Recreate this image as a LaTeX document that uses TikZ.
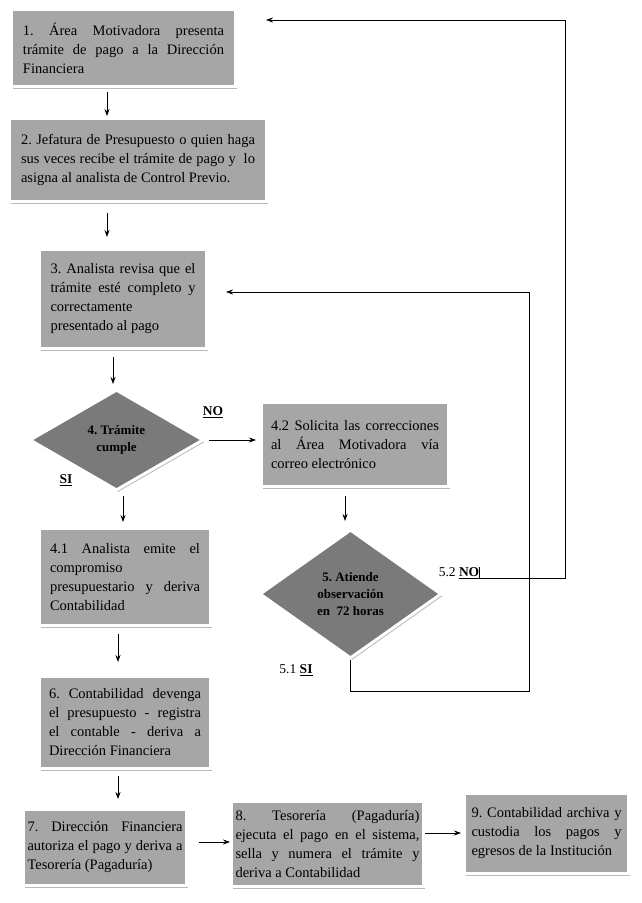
\documentclass[tikz,border=0pt]{standalone}
\usepackage{fontspec}
\setmainfont{Liberation Serif}
\usepackage{xcolor}
\usepackage{tikz}
\usetikzlibrary{arrows.meta, shapes.geometric, positioning, shadows, calc}
\frenchspacing
\definecolor{grisclaro}{RGB}{166,166,166}
\definecolor{grisoscuro}{RGB}{122,122,122}
\definecolor{grissombra}{RGB}{185,185,185}
\tikzset{
  paso/.style={
      draw=white,
      line width=3pt,
      fill=grisclaro,
      rectangle,
      inner sep=4pt,
      align=justify,
      font=\fontsize{14.5}{19}\selectfont,
      drop shadow={shadow xshift=1.5pt, shadow yshift=-2pt, fill=grissombra, opacity=1}
  },
  decision/.style={
      draw=white,
      line width=3pt,
      fill=grisoscuro,
      diamond,
      inner sep=0pt,
      align=center,
      font=\fontsize{13}{17}\selectfont\bfseries,
      drop shadow={shadow xshift=1.5pt, shadow yshift=-2pt, fill=grissombra, opacity=1}
  },
  etiqueta/.style={inner sep=0pt, font=\fontsize{13.5}{15}\selectfont},
  arrow/.style={-{Stealth[length=7pt,width=5pt]}, line width=0.8pt}
}

\begin{document}
\begin{tikzpicture}[x=1pt, y=-1pt]
      \useasboundingbox (0,0) rectangle (642,903);
      % Basic boxes
      \node (paso1) [paso, minimum width=224, minimum height=77, text width=201] at (123.5,48)
        {1. Área Motivadora presenta\linebreak trámite de pago a la Dirección\linebreak Financiera};
      \node (paso2) [paso, minimum width=257, minimum height=83, text width=234] at (138,160)
        {2. Jefatura de Presupuesto o quien haga\linebreak sus veces recibe el trámite de pago y\ \ lo\linebreak asigna al analista de Control Previo.};
      \node (paso3) [paso, minimum width=167, minimum height=99, text width=145] at (123,299)
        {3. Analista revisa que el\linebreak trámite esté completo y\linebreak correctamente\newline presentado al pago};
      \node (paso42) [paso, minimum width=187, minimum height=84, text width=168] at (355,444.5)
        {4.2 Solicita las correcciones\linebreak al Área Motivadora vía\linebreak correo electrónico};
      \node (paso41) [paso, minimum width=171, minimum height=97, text width=150] at (125,577)
        {4.1 Analista emite el\linebreak compromiso\newline presupuestario y deriva\linebreak Contabilidad};
      \node (paso6) [paso, minimum width=171, minimum height=92, text width=152] at (125,722.5)
        {6. Contabilidad devenga\linebreak el presupuesto - registra\linebreak el contable - deriva a\linebreak Dirección Financiera};
      \node (paso7) [paso, minimum width=163, minimum height=76, text width=155] at (105,847.5)
        {7. Dirección Financiera\linebreak autoriza el pago y deriva a\linebreak Tesorería (Pagaduría)};
      \node (paso8) [paso, minimum width=192, minimum height=85, text width=184] at (327.5,844)
        {8. Tesorería (Pagaduría)\linebreak ejecuta el pago en el sistema,\linebreak sella y numera el trámite y\linebreak deriva a Contabilidad};
      \node (paso9) [paso, minimum width=164, minimum height=80, text width=150] at (546.5,833.5)
        {9. Contabilidad archiva y\linebreak custodia los pagos y\linebreak egresos de la Institución};

      % Decisions
      \node (dec4) [decision, minimum width=174, minimum height=101] at (116.5,440) {4. Trámite\\cumple};
      \node (dec5) [decision, minimum width=182, minimum height=129] at (350.5,594) {5. Atiende\\observación\\en\ \ 72 horas};

      % Labels
      \node (no4) [etiqueta] at (213,412) {\underline{\textbf{NO}}};
      \node (si4) [etiqueta] at (66,480) {\underline{\textbf{SI}}};
      \node (no52) [etiqueta] at (459,573) {5.2 \underline{\textbf{NO}}};
      \node (si51) [etiqueta] at (296,670) {5.1 \underline{\textbf{SI}}};

      % Columns and rows for the connectors
      \coordinate (colA) at (107,0);
      \coordinate (colB) at (113,0);
      \coordinate (colC) at (123,0);
      \coordinate (colD) at (118,0);
      \coordinate (colE) at (345,0);
      \coordinate (filaA) at (0,842);
      \coordinate (filaB) at (0,833);
      \coordinate (esqA) at (565,20);
      \coordinate (esqB) at (529,691);

      % Connections
      \draw[arrow, shorten <=4pt, shorten >=1pt] (paso1.south -| colA) -- (paso2.north -| colA);
      \draw[arrow, shorten <=10pt, shorten >=11pt] (paso2.south -| colA) -- (paso3.north -| colA);
      \draw[arrow, shorten <=7pt, shorten >=4pt] (paso3.south -| colB) -- (dec4.north -| colB);
      \draw[arrow, shorten <=4pt, shorten >=4pt] (dec4.east) -- (paso42.west |- dec4.east);
      \draw[arrow, shorten <=4pt, shorten >=5pt] (dec4.south -| colC) -- (paso41.north -| colC);
      \draw[arrow, shorten <=8pt, shorten >=7pt] (paso42.south -| colE) -- (dec5.north -| colE);
      \draw[arrow, shorten <=7pt, shorten >=13pt] (paso41.south -| colD) -- (paso6.north -| colD);
      \draw[arrow, shorten <=6pt, shorten >=9pt] (paso6.south -| colD) -- (paso7.north -| colD);
      \draw[arrow, shorten <=11pt] (paso7.east |- filaA) -- (paso8.west |- filaA);
      \draw[arrow, shorten >=2pt] (paso8.east |- filaB) -- (paso9.west |- filaB);

      % Return loops
      \draw[arrow, shorten >=29pt] (no52.north east) -- (no52.south east) -| (esqA) -- (esqA -| paso1.east);
      \draw[arrow, shorten >=18pt] (dec5.south) |- (esqB) |- ([yshift=7pt]paso3.east);
\end{tikzpicture}
\end{document}
